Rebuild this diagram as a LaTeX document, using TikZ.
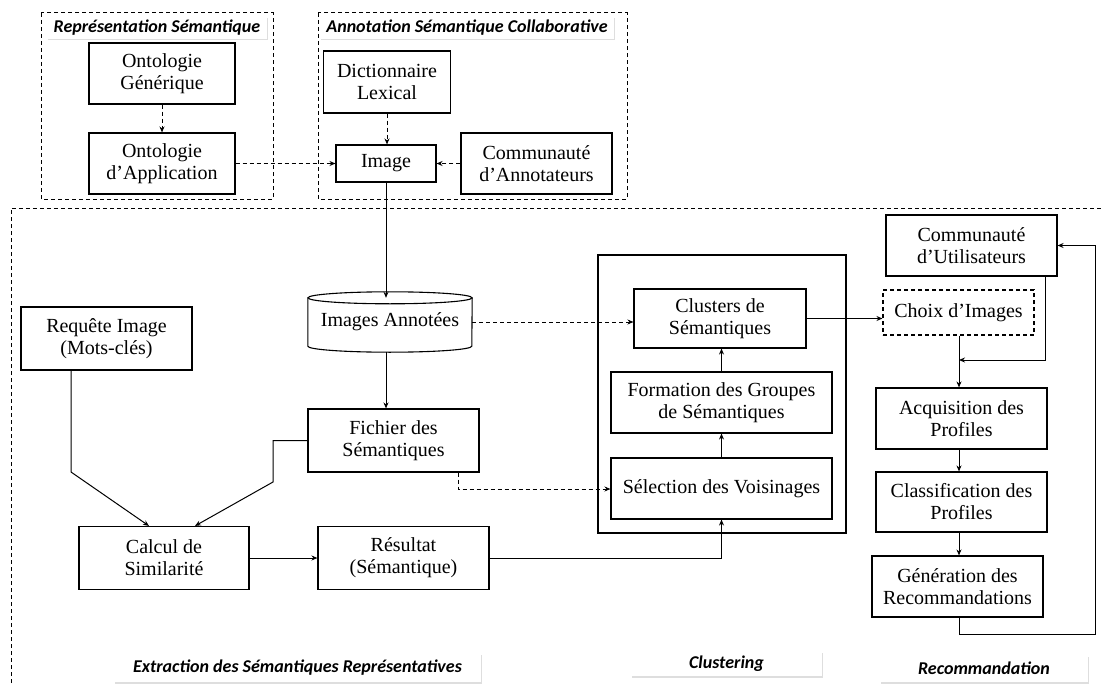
\documentclass[tikz,border=0pt]{standalone}
\usepackage{fontspec}
\setmainfont{Liberation Serif}
\newfontfamily\labfont{Carlito}
\usetikzlibrary{arrows.meta,shadows,calc}
\begin{document}
\begin{tikzpicture}[x=1pt,y=-1pt,
  box/.style={draw, line width=1.1pt, align=center, font=\fontsize{20}{22}\selectfont, inner sep=2pt},
  arr/.style={-{Stealth[length=6pt,width=5pt]}, line width=1pt},
  darr/.style={arr, dash pattern=on 4pt off 3pt},
  frame/.style={draw, dash pattern=on 4pt off 3pt, line width=1pt},
  lab/.style={fill=white, font=\labfont\bfseries\itshape\fontsize{18}{20}\selectfont, drop shadow={shadow xshift=1pt,shadow yshift=-1.5pt,fill=black!25}, inner sep=0pt}]
\useasboundingbox (0,0) rectangle (1104,685);
\fill[white] (0,0) rectangle (1104,685);

% frames
\draw[frame] (41,13) rectangle (273,199);
\draw[frame] (318,13) rectangle (627,199);
\draw[frame] (11,690) -- (11,208) -- (1110,208);
\draw[line width=1.1pt] (598,255) rectangle (846,533);

% labels
\node[lab, minimum width=220pt, minimum height=22pt] (lrep) at (157,28) {Représentation Sémantique};
\node[lab, minimum width=294pt, minimum height=22pt] (lann) at (467,28) {Annotation Sémantique Collaborative};
\node[lab, minimum width=367pt, minimum height=29pt] (lext) at (297.5,667.5) {Extraction des Sémantiques Représentatives};
\node[lab, minimum width=191pt, minimum height=25pt] (lclu) at (726.5,663.5) {Clustering};
\node[lab, minimum width=208pt, minimum height=27pt] (lrec) at (984,668.5) {Recommandation};

% nodes
\node[box, minimum width=146pt, minimum height=61pt] (ontgen) at (162,73.5) {Ontologie\\Générique};
\node[box, minimum width=146pt, minimum height=61pt] (ontapp) at (162,163.5) {Ontologie\\d’Application};
\node[box, minimum width=127pt, minimum height=62pt] (dict) at (387,82) {Dictionnaire\\Lexical};
\node[box, minimum width=100pt, minimum height=37pt] (image) at (386,163.5) {Image};
\node[box, minimum width=151pt, minimum height=61pt] (commann) at (536.5,163.5) {Communauté\\d’Annotateurs};

\node[align=center, font=\fontsize{20}{22}\selectfont, minimum width=164pt, minimum height=60pt, inner sep=0pt] (cyl) at (390,322) {Images Annotées};
\draw[line width=1.1pt] ([yshift=-6pt]cyl.north west) -- ([yshift=6pt]cyl.south west)
   arc[start angle=180, end angle=360, x radius=82pt, y radius=6pt] -- ([yshift=-6pt]cyl.north east);
\draw[line width=1.1pt] ([yshift=-6pt]cyl.north) ellipse[x radius=82pt, y radius=6pt];

\node[box, minimum width=171pt, minimum height=63pt] (req) at (106.5,338.5) {Requête Image\\(Mots-clés)};
\node[box, minimum width=171pt, minimum height=63pt] (fichier) at (393.5,440.5) {Fichier des\\Sémantiques};
\node[box, minimum width=170pt, minimum height=63pt] (calcul) at (164,558) {Calcul de\\Similarité};
\node[box, minimum width=171pt, minimum height=63pt] (result) at (403.5,558) {Résultat\\(Sémantique)};

\node[box, minimum width=172pt, minimum height=59pt] (clusters) at (720,318.5) {Clusters de\\Sémantiques};
\node[box, minimum width=221pt, minimum height=61pt] (formation) at (721.5,402.5) {Formation des Groupes\\de Sémantiques};
\node[box, minimum width=221pt, minimum height=61pt] (selection) at (721.5,488.5) {Sélection des Voisinages};

\node[box, minimum width=171pt, minimum height=61pt] (commutil) at (971.5,245.5) {Communauté\\d’Utilisateurs};
\node[box, dash pattern=on 4pt off 3pt, minimum width=151pt, minimum height=45pt] (choix) at (958.5,312.5) {Choix d’Images};
\node[box, minimum width=171pt, minimum height=61pt] (acq) at (961.5,418.5) {Acquisition des\\Profiles};
\node[box, minimum width=171pt, minimum height=60pt] (classif) at (961.5,502) {Classification des\\Profiles};
\node[box, minimum width=171pt, minimum height=61pt] (gen) at (957.5,586.5) {Génération des\\Recommandations};

% coordinates
\coordinate (vx) at (959,0);
\coordinate (r1) at (71,472);
\coordinate (f1) at (273,482);
\coordinate (f2) at (458,489);
\coordinate (u1) at (1045,360);
\coordinate (g1) at (959,634);
\coordinate (g2) at (1095,634);

% connectors
\draw[darr] (ontgen) -- (ontapp);
\draw[darr] (dict.south) -- (dict.south |- image.north);
\draw[darr] (commann) -- (image);
\draw[darr] (ontapp) -- (image);
\draw[arr] (image.south) -- ($(image.south |- cyl.north)+(0,6)$);
\draw[arr] (cyl.south -| image.south) -- (fichier.north -| image.south);
\draw[darr] (cyl.east) -- (cyl.east -| clusters.west);
\draw[arr] (req.south -| r1) -- (r1) -- ($(calcul.north)+(-15,0)$);
\draw[arr] (fichier.west) -- (fichier.west -| f1) -- (f1) -- ($(calcul.north)+(31,0)$);
\draw[darr] (fichier.south -| f2) -- (f2) -- (f2 -| selection.west);
\draw[arr] (calcul) -- (result);
\draw[arr] (result.east) -- (result.east -| selection.south) -- (selection.south);
\draw[arr] (selection) -- (formation);
\draw[arr] (formation.north) -- (formation.north |- clusters.south);
\draw[arr] (clusters.east) -- (clusters.east -| choix.west);
\draw[arr] (choix.south -| vx) -- (acq.north -| vx);
\draw[arr] (commutil.south -| u1) -- (u1) -- (u1 -| vx);
\draw[arr] (acq.south -| vx) -- (classif.north -| vx);
\draw[arr] (classif.south -| vx) -- (gen.north -| vx);
\draw[arr] (gen.south -| g1) -- (g1) -- (g2) -- (g2 |- commutil.east) -- (commutil.east);
\end{tikzpicture}
\end{document}
